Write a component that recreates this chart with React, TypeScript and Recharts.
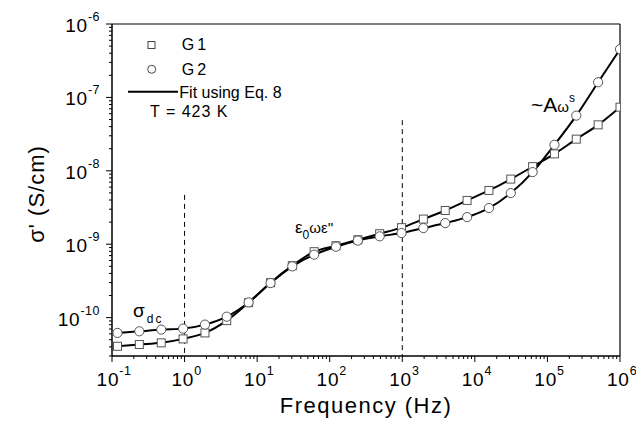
import React from "react";
import { ComposedChart, Line, XAxis, YAxis, ReferenceLine } from "recharts";

const freqs = [0.119, 0.238, 0.477, 0.954, 1.91, 3.81, 7.63, 15.3, 30.5, 61.0, 122, 244, 488, 977, 1953, 3906, 7813, 15625, 31250, 62500, 125000, 250000, 500000, 1000000];
const g1 = [4.07e-11, 4.3e-11, 4.53e-11, 5.13e-11, 6.19e-11, 9.1e-11, 1.6e-10, 2.99e-10, 5.1e-10, 7.91e-10, 9.54e-10, 1.15e-9, 1.39e-9, 1.68e-9, 2.2e-9, 2.88e-9, 3.95e-9, 5.4e-9, 7.71e-9, 1.14e-8, 1.7e-8, 2.7e-8, 4.23e-8, 7.36e-8];
const g2 = [6.19e-11, 6.51e-11, 6.87e-11, 7.08e-11, 8.03e-11, 1.03e-10, 1.61e-10, 2.96e-10, 4.99e-10, 7.2e-10, 9.25e-10, 1.12e-9, 1.28e-9, 1.42e-9, 1.66e-9, 1.94e-9, 2.34e-9, 3.11e-9, 4.97e-9, 9.6e-9, 2.26e-8, 5.65e-8, 1.61e-7, 4.53e-7];

const xDomain: [number, number] = [0.1, 1e6];
const yDomain: [number, number] = [3e-11, 1e-6];
const xDecades = [-1, 0, 1, 2, 3, 4, 5, 6];
const yDecades = [-11, -10, -9, -8, -7, -6];

const buildTicks = (decs: number[], lo: number, hi: number) => {
  const out: number[] = [];
  decs.forEach((e) => {
    for (let m = 1; m <= 9; m++) {
      const v = m * Math.pow(10, e);
      if (v >= lo * 0.9999 && v <= hi * 1.0001) out.push(v);
    }
  });
  return out;
};
const xTicks = buildTicks(xDecades, xDomain[0], xDomain[1]);
const yTicks = buildTicks(yDecades, yDomain[0], yDomain[1]);

const data = freqs.map((f, i) => ({ f, g1: g1[i], g2: g2[i] }));

const FONT = "'Liberation Sans', Arial, sans-serif";

const expOf = (v: number) => Math.round(Math.log10(v));
const isMajor = (v: number) => Math.abs(v / Math.pow(10, expOf(v)) - 1) < 1e-6;

const YTick = (props: any) => {
  const { x, y, payload } = props;
  const v = payload.value;
  const major = isMajor(v);
  return (
    <g>
      <line x1={x} x2={x - (major ? 6 : 3)} y1={y} y2={y} stroke="#000" strokeWidth={1} />
      {major && (
        <text x={x - 12} y={y + 8} textAnchor="end" fontSize={19} letterSpacing={0.8} fontFamily={FONT} fill="#000">
          10<tspan dy={-11} fontSize={12.5} letterSpacing={0.5}>{expOf(v)}</tspan>
        </text>
      )}
    </g>
  );
};

const XTick = (props: any) => {
  const { x, y, payload } = props;
  const v = payload.value;
  const major = isMajor(v);
  return (
    <g>
      <line x1={x} x2={x} y1={y} y2={y + (major ? 6 : 3)} stroke="#000" strokeWidth={1} />
      {major && (
        <text x={x + 2} y={y + 30} textAnchor="middle" fontSize={19} letterSpacing={0.8} fontFamily={FONT} fill="#000">
          10<tspan dy={-11} fontSize={12.5} letterSpacing={0.5}>{expOf(v)}</tspan>
        </text>
      )}
    </g>
  );
};

const SquareDot = (p: any) => {
  if (p.cx == null || p.cy == null) return <g key={p.index} />;
  return <rect key={p.index} x={p.cx - 4} y={p.cy - 4} width={8} height={8} fill="#fff" stroke="#555" strokeWidth={1} />;
};
const CircleDot = (p: any) => {
  if (p.cx == null || p.cy == null) return <g key={p.index} />;
  return <circle key={p.index} cx={p.cx} cy={p.cy} r={4.6} fill="#fff" stroke="#555" strokeWidth={1} />;
};

export default function App() {
  return (
    <div style={{ position: "relative", width: 636, height: 418 }}>
      <ComposedChart width={636} height={418} data={data} margin={{ top: 16, right: 24, bottom: 0, left: 0 }}>
        <XAxis
          dataKey="f"
          type="number"
          scale="log"
          domain={xDomain}
          allowDataOverflow
          ticks={xTicks}
          interval={0}
          tick={<XTick />}
          tickLine={false}
          tickSize={0}
          tickMargin={0}
          height={70}
          axisLine={{ stroke: "#000", strokeWidth: 1.5 }}
        />
        <YAxis
          type="number"
          scale="log"
          domain={yDomain}
          allowDataOverflow
          ticks={yTicks}
          interval={0}
          tick={<YTick />}
          tickLine={false}
          tickSize={0}
          tickMargin={0}
          width={104}
          axisLine={{ stroke: "#000", strokeWidth: 1.5 }}
        />
        <ReferenceLine y={1e-6} stroke="#000" strokeWidth={1.2} />
        <ReferenceLine x={1e6} stroke="#000" strokeWidth={1.2} />
        <ReferenceLine segment={[{ x: 1, y: 4.7e-9 }, { x: 1, y: 3e-11 }]} stroke="#000" strokeWidth={1} strokeDasharray="5 4" />
        <ReferenceLine segment={[{ x: 1000, y: 4.9e-8 }, { x: 1000, y: 3e-11 }]} stroke="#000" strokeWidth={1} strokeDasharray="5 4" />
        <Line dataKey="g1" type="monotone" stroke="#000" strokeWidth={2} dot={false} isAnimationActive={false} />
        <Line dataKey="g2" type="monotone" stroke="#000" strokeWidth={2} dot={false} isAnimationActive={false} />
        <Line dataKey="g1" type="monotone" stroke="none" dot={SquareDot} isAnimationActive={false} />
        <Line dataKey="g2" type="monotone" stroke="none" dot={CircleDot} isAnimationActive={false} />
      </ComposedChart>
      <svg width={636} height={418} style={{ position: "absolute", left: 0, top: 0, pointerEvents: "none" }} fontFamily={FONT}>
        <rect x={140} y={33.5} width={7} height={7} fill="#fff" stroke="#444" strokeWidth={1} />
        <text x={173.7} y={42} fontSize={16} letterSpacing={3}>G1</text>
        <circle cx={143.7} cy={61.3} r={4} fill="#fff" stroke="#444" strokeWidth={1} />
        <text x={173.7} y={67} fontSize={16} letterSpacing={3}>G2</text>
        <line x1={120} x2={170} y1={83.7} y2={83.7} stroke="#000" strokeWidth={2} />
        <text x={171.3} y={89.7} fontSize={16}>Fit using Eq. 8</text>
        <text x={142} y={108.7} fontSize={16} letterSpacing={1}>T = 423 K</text>

        <text x={125} y={309} fontSize={19}>σ<tspan dy={6} dx={2} fontSize={12} letterSpacing={2}>dc</tspan></text>
        <text x={287} y={225} fontSize={17}>ε<tspan dy={6} fontSize={12}>0</tspan><tspan dy={-6} fontSize={15}>ωε''</tspan></text>
        <text x={523} y={103.7} fontSize={21}>~A<tspan fontSize={15}>ω</tspan><tspan dy={-10} fontSize={12}>s</tspan></text>

        <text x={358} y={405} fontSize={22} textAnchor="middle" letterSpacing={1.5}>Frequency (Hz)</text>
        <text transform="translate(29,186) rotate(-90)" fontSize={22} textAnchor="middle" letterSpacing={1} x={0} y={7}>σ' (S/cm)</text>
      </svg>
    </div>
  );
}
